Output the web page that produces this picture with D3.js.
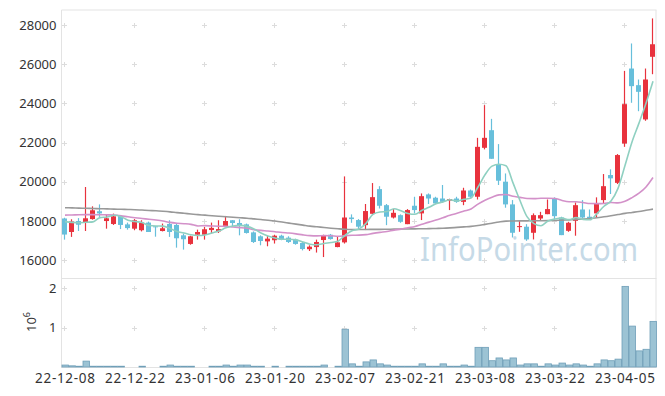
<!DOCTYPE html>
<html>
<head>
<meta charset="utf-8">
<script src="https://cdn.jsdelivr.net/npm/d3@7"></script>
<style>
  html, body { margin: 0; padding: 0; background: #fff; }
  svg { display: block; }
  text { font-family: "Noto Sans", "Open Sans", sans-serif; fill: #333; }
</style>
</head>
<body>
<svg id="chart" width="665" height="396"></svg>
<script>
// ---------- data ----------
const dates = [
  "22-12-08","22-12-09","22-12-12","22-12-13","22-12-14","22-12-15","22-12-16","22-12-19","22-12-20","22-12-21",
  "22-12-22","22-12-23","22-12-26","22-12-27","22-12-28","22-12-29","23-01-02","23-01-03","23-01-04","23-01-05",
  "23-01-06","23-01-09","23-01-10","23-01-11","23-01-12","23-01-13","23-01-16","23-01-17","23-01-18","23-01-19",
  "23-01-20","23-01-25","23-01-26","23-01-27","23-01-30","23-01-31","23-02-01","23-02-02","23-02-03","23-02-06",
  "23-02-07","23-02-08","23-02-09","23-02-10","23-02-13","23-02-14","23-02-15","23-02-16","23-02-17","23-02-20",
  "23-02-21","23-02-22","23-02-23","23-02-24","23-02-27","23-02-28","23-03-02","23-03-03","23-03-06","23-03-07",
  "23-03-08","23-03-09","23-03-10","23-03-13","23-03-14","23-03-15","23-03-16","23-03-17","23-03-20","23-03-21",
  "23-03-22","23-03-23","23-03-24","23-03-27","23-03-28","23-03-29","23-03-30","23-03-31","23-04-03","23-04-04",
  "23-04-05","23-04-06","23-04-07","23-04-10","23-04-11"
];
const open  = [18120,17430,17990,17920,18090,18490,17990,17840,18250,17820,
               17600,17520,17910,17720,17480,17840,17790,17260,16820,17290,
               17290,17530,17460,17740,18030,17890,17820,17410,17210,16950,
               17010,17240,17140,17040,16870,16550,16660,17020,17290,16660,
               16900,18170,18040,17780,18360,19620,18800,18170,18290,17830,
               18770,18380,19350,19180,19140,19030,19140,18970,19550,19230,
               21730,22630,20880,20000,18840,17700,17700,17390,18120,18340,
               19140,18170,17490,18000,18580,18210,18380,19060,20340,19940,
               21950,25780,24930,23180,26380];
const high  = [18160,18080,18140,19730,18740,18840,18330,18370,18300,17910,
               18090,18030,17960,17740,17860,18030,17840,17350,17240,17550,
               17690,17910,18030,18250,18040,18080,17860,17460,17260,17230,
               17290,17290,17210,17090,16920,16750,17040,17290,17330,17210,
               20270,18330,18090,18860,19930,19770,18860,18600,18330,18600,
               19230,19400,19400,19230,19830,19130,19230,19690,19600,22240,
               23910,23210,21920,20420,19060,18000,17830,18380,18460,19090,
               19200,18210,17950,18940,19060,18580,19200,20390,20630,21410,
               25660,27060,25220,25780,28340];
const low   = [17040,17180,17480,17480,18060,18200,17600,17790,17580,17550,
               17520,17460,17430,17190,17460,17180,16630,16530,16780,17040,
               17040,17350,17380,17690,17690,17260,17350,16870,16750,16700,
               16840,17010,16870,16780,16490,16460,16380,16150,17040,16650,
               16840,17900,17530,17530,18290,18630,17780,18120,17900,17830,
               18380,18040,18860,18860,18920,18550,18920,18800,19180,19090,
               21650,21170,19830,18670,17150,17440,16980,17050,18040,18340,
               18070,17270,17440,17240,18120,18070,18170,18890,19370,19880,
               21780,24030,23600,23110,25490];
const close = [17300,17970,17800,18130,18540,18380,18130,18230,17790,17630,
               18030,17910,17430,17670,17620,17430,17110,17060,17210,17430,
               17570,17640,17580,17990,17890,17750,17380,16920,16970,17090,
               17240,17060,16920,16820,16560,16680,16920,17240,17070,16900,
               18170,18090,17700,18500,19210,18770,18210,18410,17950,18550,
               18550,19260,19140,18890,18970,19110,18970,19550,19230,21780,
               22240,21170,20050,18840,17390,17730,17050,18290,18290,18600,
               18240,17270,17900,18800,18170,18120,18860,19770,20170,21360,
               23960,24880,24590,25220,27020];
const volume = [50000,30000,20000,150000,20000,20000,20000,20000,20000,0,
                0,20000,0,0,20000,50000,20000,20000,20000,0,
                0,20000,20000,50000,20000,50000,50000,20000,20000,0,
                20000,0,20000,20000,20000,20000,20000,50000,0,20000,
                960000,80000,20000,130000,180000,80000,50000,20000,20000,20000,
                20000,80000,20000,20000,80000,20000,20000,50000,20000,500000,
                500000,160000,230000,180000,230000,50000,80000,80000,20000,80000,
                50000,100000,50000,80000,50000,20000,80000,180000,160000,200000,
                2050000,1040000,410000,450000,1160000];
// moving-average values before enough history exists in this window
const ma5Head  = [17960,17920,17900,17930];
const ma20Head = [18290,18300,18310,18315,18315,18310,18305,18295,18260,18205,
                  18160,18120,18080,18040,17990,17920,17880,17855,17820];
// long moving average (grey)
const maLong = [18670,18660,18650,18640,18630,18620,18610,18600,18590,18580,
                18570,18550,18530,18515,18490,18460,18420,18385,18350,18315,
                18290,18260,18235,18210,18185,18160,18135,18100,18065,18030,
                17990,17940,17885,17830,17780,17730,17695,17660,17625,17595,
                17570,17560,17560,17560,17565,17565,17570,17575,17580,17585,
                17590,17595,17600,17610,17620,17640,17665,17690,17715,17760,
                17820,17880,17940,17985,17995,18000,18000,18005,18005,18010,
                18020,18035,18050,18065,18090,18120,18160,18205,18260,18320,
                18380,18430,18480,18540,18600];
const priceTicks = [16000,18000,20000,22000,24000,26000,28000];
const volTicks = [1000000, 2000000];
const volTickLabels = ["1","2"];
const tickEvery = 10;

(function draw() {
  const svg = d3.select("#chart");
  const W = 665, H = 396;
  const pL = 61.5, pR = 656.5, pT = 10, pSep = 278.5, pB = 367;

  const n = dates.length;
  const idx = d3.range(n);
  const x = d3.scaleBand().domain(idx).range([pL, pR]).padding(0);
  const xc = i => x(i) + x.bandwidth() / 2;
  const y = d3.scaleLinear().domain([15080, 28770]).range([pSep - 0.5, pT]);
  const yv = d3.scaleLinear().domain([0, 2250000]).range([pB, pSep]);

  function movingAvg(k, head) {
    return idx.map(i => i < k - 1 ? head[i] : d3.mean(close.slice(i - k + 1, i + 1)));
  }
  const ma5 = movingAvg(5, ma5Head);
  const ma20 = movingAvg(20, ma20Head);

  svg.append("rect").attr("width", W).attr("height", H).attr("fill", "#fff");

  // grid crosses
  const tickIdx = idx.filter(i => i % tickEvery === 0);
  const gx = tickIdx.map(i => Math.round(xc(i)) - 0.5);
  const gy = priceTicks.map(v => Math.round(y(v)) + 0.5).concat(volTicks.map(v => Math.round(yv(v)) + 0.5));
  const grid = svg.append("g").attr("stroke", "#dcdcdc").attr("stroke-width", 1);
  gx.forEach(cx => gy.forEach(cy => {
    grid.append("line").attr("x1", cx - 2.5).attr("x2", cx + 2.5).attr("y1", cy).attr("y2", cy);
    grid.append("line").attr("x1", cx).attr("x2", cx).attr("y1", cy - 2.5).attr("y2", cy + 2.5);
  }));

  // watermark
  svg.append("text")
    .attr("x", 420).attr("y", 261)
    .attr("font-size", 32)
    .attr("textLength", 218).attr("lengthAdjust", "spacingAndGlyphs")
    .style("fill", "#c6dae7")
    .text("InfoPointer.com");

  // frame
  const frame = svg.append("g").attr("stroke", "#e3e3e3").attr("stroke-width", 1).attr("fill", "none");
  frame.append("line").attr("x1", pL).attr("x2", pR).attr("y1", pT).attr("y2", pT);
  frame.append("line").attr("x1", pL).attr("x2", pR).attr("y1", pSep).attr("y2", pSep);
  frame.append("line").attr("x1", pL).attr("x2", pR).attr("y1", pB + 0.5).attr("y2", pB + 0.5);
  frame.append("line").attr("x1", pR - 0.5).attr("x2", pR - 0.5).attr("y1", pT).attr("y2", pB);
  frame.append("line").attr("x1", pL).attr("x2", pL).attr("y1", pT).attr("y2", pB + 1);

  // volume bars
  svg.append("g").selectAll("rect").data(idx.filter(i => volume[i] > 0)).join("rect")
    .attr("x", i => x(i) + 0.5)
    .attr("width", x.bandwidth() - 0.5)
    .attr("y", i => yv(volume[i]))
    .attr("height", i => Math.max(0.5, pB - yv(volume[i])))
    .attr("fill", "#9cc3d4")
    .attr("stroke", "#6f9fb8")
    .attr("stroke-width", 0.8);

  // candles
  const upColor = "#e8323d", downColor = "#67bfdb";
  const bodyW = 5;
  const cg = svg.append("g");
  idx.forEach(i => {
    const up = close[i] >= open[i];
    const col = up ? upColor : downColor;
    const cx = Math.round(xc(i)) - 0.5;
    cg.append("line").attr("x1", cx).attr("x2", cx)
      .attr("y1", y(high[i])).attr("y2", y(low[i]))
      .attr("stroke", col).attr("stroke-width", 1.2);
    const yt = y(Math.max(open[i], close[i])), yb = y(Math.min(open[i], close[i]));
    cg.append("rect").attr("x", cx - bodyW / 2).attr("width", bodyW)
      .attr("y", yt).attr("height", Math.max(1, yb - yt))
      .attr("fill", col);
  });

  // moving averages
  const line = d3.line().x(i => xc(i)).curve(d3.curveMonotoneX);
  [[maLong, "#999999"], [ma20, "#d391c9"], [ma5, "#8fd0c1"]].forEach(([arr, col]) => {
    svg.append("path").datum(idx)
      .attr("d", line.y(i => y(arr[i])))
      .attr("fill", "none").attr("stroke", col).attr("stroke-width", 1.6);
  });

  // axes labels
  const yAxis = d3.axisLeft(y).tickValues(priceTicks).tickSize(0).tickPadding(5).tickFormat(d3.format("d"));
  const ga = svg.append("g").attr("transform", `translate(${pL},0)`).call(yAxis);
  ga.select(".domain").remove();
  ga.selectAll("text").attr("font-size", 13).attr("font-family", '"Noto Sans", sans-serif').style("fill", "#333");

  const vAxis = d3.axisLeft(yv).tickValues(volTicks).tickSize(0).tickPadding(5)
    .tickFormat((d, k) => volTickLabels[k]);
  const gv = svg.append("g").attr("transform", `translate(${pL},0)`).call(vAxis);
  gv.select(".domain").remove();
  gv.selectAll("text").attr("font-size", 13).attr("font-family", '"Noto Sans", sans-serif').style("fill", "#333");

  const xAxis = d3.axisBottom(x).tickValues(tickIdx).tickSize(0).tickPadding(6)
    .tickFormat(i => dates[i]);
  const gxa = svg.append("g").attr("transform", `translate(0,${pB})`).call(xAxis);
  gxa.select(".domain").remove();
  gxa.selectAll("text").attr("font-size", 13.5).attr("font-family", '"Noto Sans", sans-serif')
    .attr("textLength", 60).attr("lengthAdjust", "spacing").style("fill", "#333");

  // 10^6 label
  const vl = svg.append("text")
    .attr("transform", "translate(36,322) rotate(-90)")
    .attr("text-anchor", "middle")
    .attr("font-size", 13);
  vl.append("tspan").text("10");
  vl.append("tspan").attr("font-size", 9).attr("dy", -6).text("6");
})();
</script>
</body>
</html>
